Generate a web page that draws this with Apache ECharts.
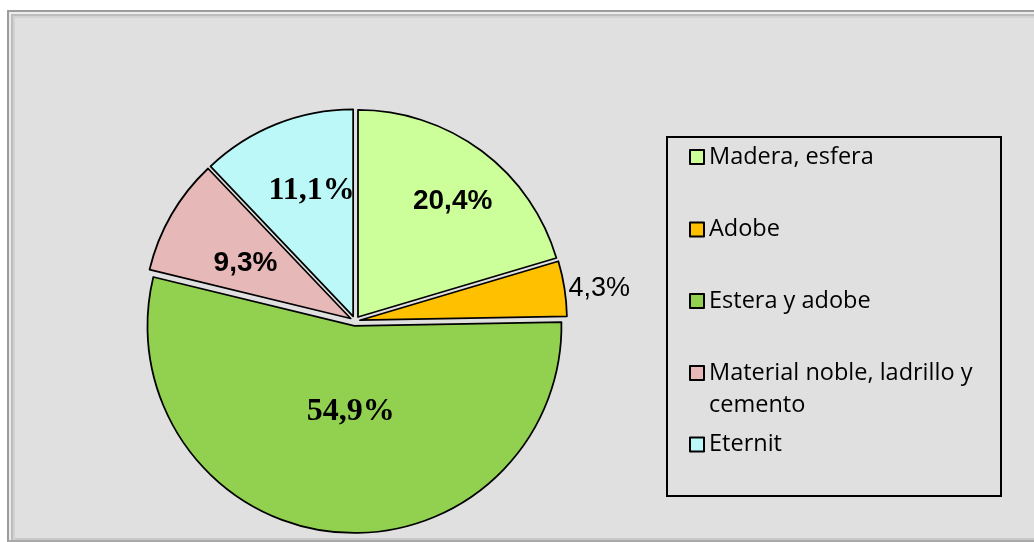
<!DOCTYPE html>
<html>
<head>
<meta charset="utf-8">
<script src="https://cdn.jsdelivr.net/npm/echarts@6/dist/echarts.min.js"></script>
<style>
  html, body { margin: 0; padding: 0; background: #ffffff; width: 1034px; height: 542px; overflow: hidden; }
  .frame {
    position: absolute; left: 7px; top: 10px; width: 1100px; height: 528px;
    background: #e0e0e0;
    border-left: 2px solid #9c9c9c; border-top: 2px solid #9c9c9c; border-bottom: 2px solid #a8a8a8;
    box-shadow: inset 2px 2px 0 #ececec, inset 4px 4px 0 #bdbdbd, inset 6px 6px 0 #d2d2d2, inset 0 -2px 0 #c8c8c8;
  }
  #chart { position: absolute; left: 0; top: 0; width: 1034px; height: 542px; }
</style>
</head>
<body>
<div class="frame"></div>
<div id="chart"></div>
<script>
// ---- data (slice sizes; label texts as printed) ----
const categories = ['Madera, esfera', 'Adobe', 'Estera y adobe', 'Material noble, ladrillo y cemento', 'Eternit'];
const values = [20.4, 4.3, 54.1, 9.1, 12.1];
const labels = ['20,4%', '4,3%', '54,9%', '9,3%', '11,1%'];

// ---- styles ----
const colors = ['#CCFF99', '#FFC000', '#92D050', '#E6B8B7', '#BDF8F8'];
const sansBold = { fontFamily: '"Liberation Sans", Arial, sans-serif', fontWeight: 'bold', fontSize: 28 };
const serifBold = { fontFamily: '"Liberation Serif", "Times New Roman", serif', fontWeight: 'bold', fontSize: 32 };
const labelStyles = [
  Object.assign({ position: 'inside' }, sansBold),
  { position: 'outside', fontFamily: '"Liberation Sans", Arial, sans-serif', fontWeight: 'normal', fontSize: 27, distanceToLabelLine: 4 },
  Object.assign({ position: 'inside' }, serifBold),
  Object.assign({ position: 'inside' }, sansBold),
  Object.assign({ position: 'inside' }, serifBold)
];
// nudges of the inside labels away from ECharts' default inside spot
const labelNudge = [[31, -30], [0, 0], [8, -20], [-13, -2], [-2, -27]];
const legendIconCenters = [157, 229.5, 301, 373, 444.5];
const legendLineHeight = 32;

const chart = echarts.init(document.getElementById('chart'), null, { renderer: 'canvas' });

const pieData = categories.map((name, i) => ({
  name: name,
  value: values[i],
  selected: true,
  itemStyle: { color: colors[i] },
  label: Object.assign({ show: true, color: '#000', formatter: () => labels[i] }, labelStyles[i])
}));

const legends = categories.map((name, i) => {
  const twoLine = name.indexOf(' cemento') >= 0;
  return {
    data: [name],
    orient: 'vertical',
    left: 689,
    top: twoLine ? legendIconCenters[i] - legendLineHeight * 1.5 : legendIconCenters[i] - legendLineHeight / 2,
    padding: 0,
    itemWidth: 14,
    itemHeight: 14,
    icon: 'rect',
    selectedMode: false,
    itemStyle: { borderColor: '#000', borderWidth: 2 },
    formatter: n => twoLine ? ' \n' + n.replace(' cemento', '\ncemento') : n,
    textStyle: {
      fontFamily: '"Open Sans", "Noto Sans", sans-serif',
      fontSize: 23.5,
      color: '#000',
      lineHeight: legendLineHeight
    }
  };
});

chart.setOption({
  backgroundColor: 'transparent',
  animation: false,
  color: colors,
  legend: legends,
  graphic: [{
    type: 'rect',
    shape: { x: 667, y: 137, width: 334, height: 359 },
    style: { fill: 'none', stroke: '#000', lineWidth: 2 },
    silent: true
  }],
  series: [{
    type: 'pie',
    center: [355, 321],
    radius: [0, 207],
    startAngle: 90,
    clockwise: true,
    selectedMode: 'multiple',
    selectedOffset: 5,
    avoidLabelOverlap: false,
    itemStyle: { borderColor: '#000', borderWidth: 1.75 },
    labelLine: { show: false, length: 0, length2: 0 },
    labelLayout: p => ({ dx: labelNudge[p.dataIndex][0], dy: labelNudge[p.dataIndex][1] }),
    emphasis: { disabled: true },
    select: { itemStyle: { borderColor: '#000', borderWidth: 1.75 } },
    data: pieData
  }]
});
</script>
</body>
</html>
